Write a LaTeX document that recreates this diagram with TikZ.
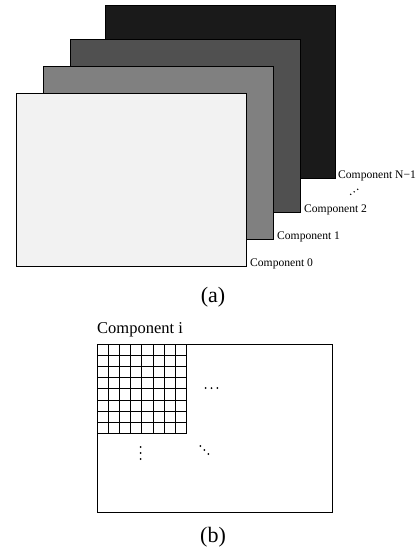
\documentclass[tikz,border=0pt]{standalone}
\usepackage{fontspec}
\setmainfont{Liberation Serif}
\definecolor{lay0}{HTML}{F2F2F2}
\definecolor{lay1}{HTML}{808080}
\definecolor{lay2}{HTML}{505050}
\definecolor{lay3}{HTML}{1A1A1A}
\begin{document}
\begin{tikzpicture}[x=1pt,y=-1pt,
  layer/.style={draw=black, line width=0.9pt},
  lbl/.style={anchor=base west, inner sep=0pt, font=\fontsize{11.6}{14}\selectfont},
  subcap/.style={anchor=base, inner sep=0pt, font=\fontsize{22}{26}\selectfont},
  dotm/.style={fill=black, draw=none}]
\useasboundingbox (0,0) rectangle (417,552);
% (a) stacked layers
\draw[layer, fill=lay3] (105,5) rectangle (335,178);
\draw[layer, fill=lay2] (70,39.5) rectangle (300,212);
\draw[layer, fill=lay1] (43,66.5) rectangle (273,239);
\draw[layer, fill=lay0] (16.5,93) rectangle (246.5,266);
\node[lbl] (l3) at (338,178) {Component N−1};
\node[lbl] (l2) at (304,212) {Component 2};
\node[lbl] (l1) at (277,239) {Component 1};
\node[lbl] (l0) at (250,266) {Component 0};
\fill[dotm] (350.7,194.3) circle (0.8) (354.2,191.8) circle (0.8) (357.7,189.3) circle (0.8);
\node[subcap] (ca) at (213,302) {(a)};
% (b) single component
\node[anchor=base west, inner sep=0pt, font=\fontsize{16.5}{20}\selectfont] (li) at (97,333) {Component i};
\draw[layer] (97,344) rectangle (332.5,512);
\foreach \k in {0,...,8} {
  \draw[line width=0.9pt] ({97+11.2*\k},344) -- ({97+11.2*\k},433.6);
  \draw[line width=0.9pt] (97,{344+11.2*\k}) -- (186.6,{344+11.2*\k});
}
\fill[dotm] (205.7,388) circle (1) (211.5,388) circle (1) (217.3,388) circle (1);
\fill[dotm] (140.7,447) circle (1) (140.7,453) circle (1) (140.7,459) circle (1);
\fill[dotm] (200.3,446) circle (1) (204.3,450) circle (1) (208.3,454) circle (1);
\node[subcap] (cb) at (213,542) {(b)};
\end{tikzpicture}
\end{document}
